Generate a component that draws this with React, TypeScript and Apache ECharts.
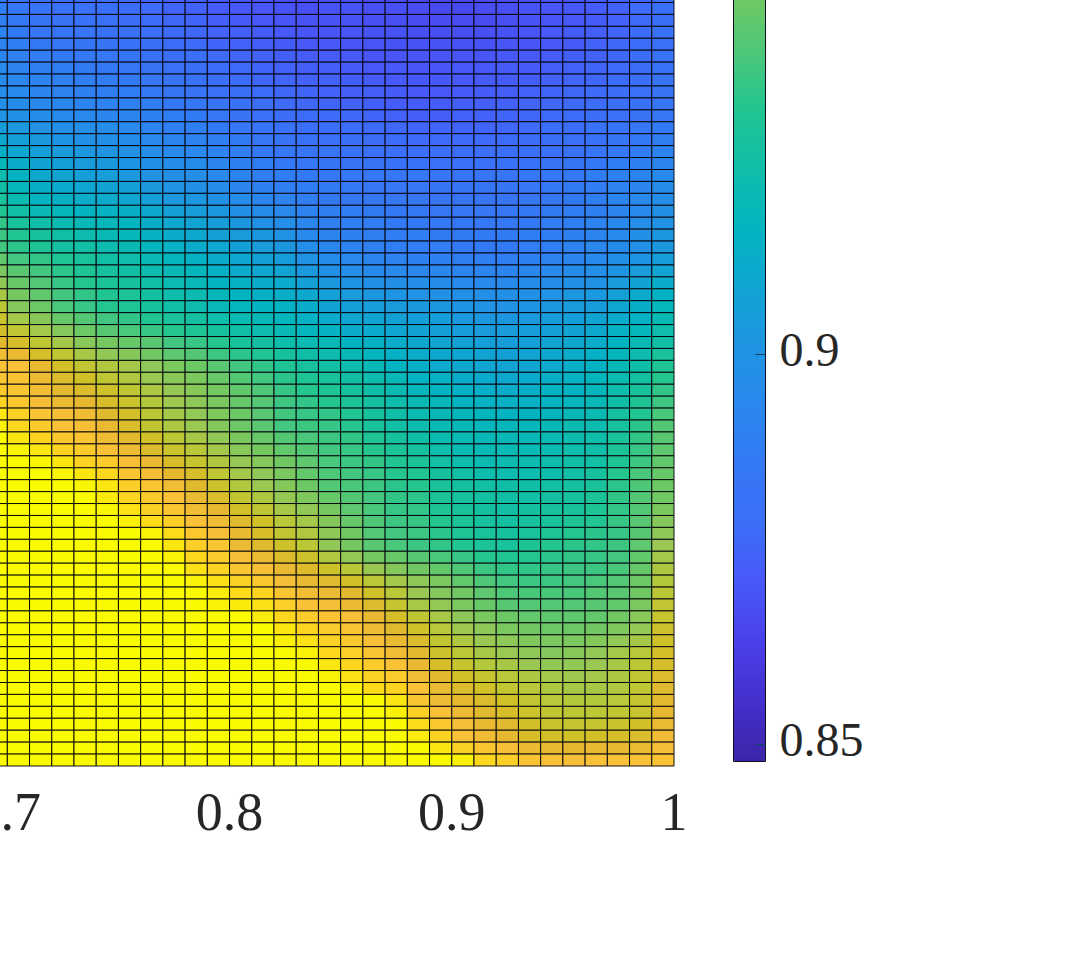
import React, { useEffect, useRef } from "react";
import * as echarts from "echarts";

const xTickValues = [0.7, 0.8, 0.9, 1];
const colorbarTickValues = [0.85, 0.9];
const colorMin = 0.84776;
const colorMax = 1.0;
const xStart = 0.69;
const xStep = 0.01;
const colorStops = ["#3c24a8","#4430cc","#4a40e8","#4858f8","#3c6ef8","#3478f5","#2a88ee","#1f94e2","#10a5d2","#02b5c0","#10bea8","#22c590","#50c778","#74c860","#98c854","#b8c838","#d2c028","#e6b830","#f8c038","#fcd420","#fafa00"];

// Each row: one y level, top row first; values in thousandths.
const cellRows: number[][] = [
[888,884,882,881,880,879,877,876,874,873,871,870,869,868,867,868,868,867,867,866,865,865,866,867,868,869,870,872,874,876,879],
[889,885,883,882,881,880,878,877,875,874,872,871,870,869,868,869,869,868,868,867,866,866,867,868,869,870,871,872,874,877,880],
[890,886,884,883,882,881,879,878,876,875,873,872,871,870,869,869,869,868,868,867,867,867,867,868,869,870,871,872,874,877,880],
[891,887,885,884,883,882,881,879,877,876,874,873,872,871,870,870,870,869,869,868,868,868,868,869,870,871,872,873,875,878,881],
[892,888,886,885,884,883,882,880,878,877,875,874,873,872,871,871,870,870,869,869,869,869,869,870,870,871,872,874,876,878,881],
[892,890,888,887,886,885,884,882,880,879,877,875,874,873,872,872,871,870,870,870,870,870,870,871,871,872,873,874,876,879,882],
[894,891,889,888,887,886,885,883,881,880,878,877,875,874,873,873,872,871,871,870,870,871,871,872,872,873,874,875,877,879,882],
[895,893,891,890,889,888,887,885,883,882,880,878,876,875,874,874,873,872,871,871,871,871,872,872,873,874,875,876,878,880,883],
[897,895,893,891,890,889,888,886,884,883,881,880,878,876,875,874,873,873,872,871,871,872,872,873,874,875,876,877,879,881,883],
[898,896,894,893,892,891,890,888,886,885,883,881,879,877,876,875,874,873,872,872,872,873,873,874,875,876,877,878,880,882,884],
[901,899,897,895,894,893,892,890,888,887,885,883,881,879,878,877,876,875,874,873,873,874,874,875,876,877,878,879,881,883,885],
[905,903,900,898,897,896,894,892,890,889,887,885,883,881,880,879,878,877,876,875,875,875,875,876,877,878,879,881,883,885,887],
[909,906,903,901,899,898,896,894,892,891,889,887,885,883,882,881,880,879,878,877,877,877,877,878,879,880,881,882,884,886,889],
[913,909,906,904,902,901,899,897,895,894,891,889,886,885,884,883,882,881,880,880,879,879,879,880,880,881,882,884,886,888,891],
[918,912,908,906,904,903,901,899,897,896,893,890,888,886,885,884,883,883,882,882,881,881,881,882,882,883,884,886,888,890,893],
[922,915,910,908,906,905,903,900,898,897,894,892,889,888,887,886,885,885,885,885,884,884,884,884,885,885,886,888,890,892,895],
[925,918,913,911,909,908,906,903,900,899,896,893,890,889,888,887,886,885,885,885,884,884,884,884,885,886,887,888,891,893,896],
[928,921,916,914,912,911,909,906,903,902,899,896,893,891,889,887,886,886,885,885,884,884,884,884,885,886,887,889,892,894,897],
[931,925,920,918,916,915,913,910,907,905,902,899,896,894,891,889,888,887,886,886,885,885,885,885,886,887,888,890,893,895,899],
[934,928,924,921,919,918,916,913,910,908,905,902,899,897,893,890,889,888,887,887,886,886,886,886,887,888,889,891,894,897,900],
[936,931,927,924,922,920,918,915,912,910,907,904,902,900,895,892,890,889,888,888,887,887,887,887,888,888,890,892,895,898,902],
[937,933,930,926,925,922,920,917,914,912,909,906,904,902,897,893,891,890,889,888,888,887,887,887,888,889,891,893,896,899,903],
[943,937,934,930,928,925,923,920,917,915,912,909,907,905,900,896,894,892,891,890,890,889,889,889,890,891,893,895,898,901,905],
[948,941,937,933,930,927,925,922,919,917,914,911,909,908,903,899,897,895,894,893,893,892,892,892,893,894,896,898,901,904,908],
[953,944,940,935,932,929,927,924,921,919,916,914,912,911,907,903,901,899,898,897,896,895,895,895,896,897,899,900,904,908,912],
[958,947,943,937,934,931,929,926,923,921,918,916,914,913,910,906,904,902,901,900,899,898,898,898,899,900,902,903,907,911,915],
[963,950,945,938,935,932,930,927,924,922,919,917,916,915,912,908,906,905,904,903,902,901,900,900,901,902,904,905,909,913,918],
[967,957,951,944,940,937,934,931,928,926,923,921,919,917,914,911,909,908,907,906,905,903,902,902,903,904,906,908,911,915,920],
[971,964,957,950,945,941,938,935,932,930,927,924,922,920,917,915,912,911,909,908,906,905,904,904,905,906,908,910,914,918,923],
[976,971,964,957,951,947,944,941,937,935,932,928,926,923,921,919,916,914,912,910,908,907,906,905,906,908,910,912,916,920,925],
[981,979,971,964,958,953,950,946,942,940,936,933,930,927,924,922,919,917,914,912,910,909,908,907,908,910,912,914,918,922,928],
[985,985,978,970,965,960,957,952,948,945,941,937,934,930,927,925,922,919,916,913,911,910,909,908,909,911,913,915,919,924,930],
[987,986,980,973,969,964,960,955,951,948,944,940,937,933,930,928,925,922,919,916,914,912,911,910,911,913,915,917,921,926,932],
[989,987,982,976,973,968,964,959,954,951,947,943,939,935,932,930,927,924,921,918,916,914,913,912,913,915,916,918,923,928,934],
[992,988,983,979,977,972,967,961,956,952,948,944,940,936,934,932,929,926,923,920,918,916,915,914,914,916,917,919,924,930,936],
[996,991,986,983,981,975,970,963,957,953,949,945,941,937,935,934,931,927,924,921,919,918,917,916,916,917,919,921,926,931,938],
[998,993,989,985,984,978,973,965,959,955,950,945,941,937,936,935,932,928,925,922,920,919,918,918,918,919,921,922,927,933,940],
[1000,996,992,988,986,981,976,969,963,958,953,948,944,940,938,936,934,930,927,924,921,920,919,919,919,920,922,923,928,934,941],
[1000,999,996,992,989,985,980,973,967,962,957,951,947,943,940,937,935,932,929,927,923,921,920,920,920,921,923,924,929,935,942],
[1000,1000,999,996,992,989,984,978,972,966,960,954,950,946,942,938,936,934,931,929,925,923,921,921,921,922,924,925,930,936,943],
[1000,1000,1000,999,996,993,987,983,977,971,964,957,952,948,943,939,937,935,932,931,927,925,923,922,922,923,925,927,932,938,944],
[1000,1000,1000,1000,999,996,990,987,982,975,968,960,955,950,945,940,938,936,933,932,928,926,925,924,924,925,926,928,933,939,945],
[1000,1000,1000,1000,1000,997,992,989,985,979,973,965,959,954,949,944,940,937,934,933,929,927,926,925,925,926,927,929,934,940,946],
[1000,1000,1000,1000,1000,999,995,991,987,982,977,970,964,958,953,947,942,938,935,934,930,928,926,925,926,927,928,930,934,940,948],
[1000,1000,1000,1000,1000,1000,998,994,990,985,981,975,969,962,957,950,944,939,936,935,932,929,927,926,927,928,930,931,935,941,950],
[1000,1000,1000,1000,1000,1000,1000,998,994,988,984,978,972,965,960,952,946,940,937,936,933,930,928,927,928,930,932,933,935,941,952],
[1000,1000,1000,1000,1000,1000,1000,1000,996,990,987,980,975,968,963,953,947,941,938,936,934,931,929,928,930,932,933,934,936,942,955],
[1000,1000,1000,1000,1000,1000,1000,1000,998,993,989,984,979,973,968,960,953,947,944,941,938,935,932,931,932,933,934,935,937,943,957],
[1000,1000,1000,1000,1000,1000,1000,1000,1000,995,992,987,984,979,974,968,962,955,950,946,943,939,936,934,934,935,936,936,938,944,959],
[1000,1000,1000,1000,1000,1000,1000,1000,1000,998,995,991,988,983,978,975,970,963,957,952,948,943,939,937,936,936,937,938,940,945,961],
[1000,1000,1000,1000,1000,1000,1000,1000,1000,1000,997,994,992,987,982,980,976,969,962,955,950,946,942,939,938,938,938,940,941,946,963],
[1000,1000,1000,1000,1000,1000,1000,1000,1000,1000,998,997,995,990,985,983,980,973,966,958,953,948,944,941,940,940,940,941,943,948,965],
[1000,1000,1000,1000,1000,1000,1000,1000,1000,1000,1000,1000,997,993,989,986,984,978,971,964,958,952,948,945,943,942,942,943,946,951,966],
[1000,1000,1000,1000,1000,1000,1000,1000,1000,1000,1000,1000,1000,996,992,989,986,981,975,969,962,956,952,948,946,945,945,946,949,954,968],
[1000,1000,1000,1000,1000,1000,1000,1000,1000,1000,1000,1000,1000,998,995,991,988,984,979,973,965,960,955,952,949,948,948,950,953,958,969],
[1000,1000,1000,1000,1000,1000,1000,1000,1000,1000,1000,1000,1000,1000,998,993,990,986,982,976,968,963,958,955,952,950,951,953,957,962,971],
[1000,1000,1000,1000,1000,1000,1000,1000,1000,1000,1000,1000,1000,1000,1000,996,993,989,985,979,972,966,961,958,955,953,953,955,958,963,972],
[1000,1000,1000,1000,1000,1000,1000,1000,1000,1000,1000,1000,1000,1000,1000,998,995,991,989,982,976,970,966,962,959,957,956,957,959,964,973],
[1000,1000,1000,1000,1000,1000,1000,1000,1000,1000,1000,1000,1000,1000,1000,1000,998,994,992,985,979,973,969,965,962,959,958,958,960,964,975],
[1000,1000,1000,1000,1000,1000,1000,1000,1000,1000,1000,1000,1000,1000,1000,1000,1000,1000,996,987,981,977,973,969,965,962,961,961,962,966,976],
[1000,1000,1000,1000,1000,1000,1000,1000,1000,1000,1000,1000,1000,1000,1000,1000,1000,1000,998,991,985,980,975,972,968,965,963,963,964,967,977],
[1000,1000,1000,1000,1000,1000,1000,1000,1000,1000,1000,1000,1000,1000,1000,1000,1000,1000,1000,994,988,983,978,975,970,967,966,966,967,970,979],
[1000,1000,1000,1000,1000,1000,1000,1000,1000,1000,1000,1000,1000,1000,1000,1000,1000,1000,1000,997,992,985,981,977,972,970,969,970,971,973,981],
[1000,1000,1000,1000,1000,1000,1000,1000,1000,1000,1000,1000,1000,1000,1000,1000,1000,1000,1000,1000,996,991,987,984,980,978,977,978,978,979,984],
[1000,1000,1000,1000,1000,1000,1000,1000,1000,1000,1000,1000,1000,1000,1000,1000,1000,1000,1000,1000,1000,998,993,990,986,985,984,985,985,985,986],
];

const FONT = "'Liberation Serif', serif";
const INK = "#262626";

export default function App() {
  const ref = useRef<HTMLDivElement>(null);
  useEffect(() => {
    document.body.style.margin = "0";
    document.body.style.overflow = "hidden";
    const chart = echarts.init(ref.current!, undefined, { renderer: "svg" });
    const rowCount = cellRows.length;
    const data: number[][] = [];
    cellRows.forEach((row, r) => {
      row.forEach((v, c) => {
        data.push([xStart + xStep * c, rowCount - 1 - r, v / 1000]);
      });
    });
    chart.setOption({
      animation: false,
      backgroundColor: "#ffffff",
      grid: [
        { left: -14.9, width: 688.9, top: -9.45, height: 775.45, outerBoundsMode: "none" },
        {
          left: 733.5, width: 32, top: -426, height: 1187.5, show: true, z: 10, outerBoundsMode: "none",
          backgroundColor: "transparent", borderColor: "#101020", borderWidth: 1,
        },
      ],
      xAxis: [
        {
          type: "value", gridIndex: 0, min: xStart, max: 1, splitLine: { show: false },
          axisLine: { show: false }, axisTick: { show: false },
          axisLabel: {
            customValues: xTickValues, margin: 19, fontFamily: FONT, fontSize: 54, color: INK,
            hideOverlap: false, formatter: (v: number) => String(v),
          },
        },
        { type: "value", gridIndex: 1, min: 0, max: 1, show: false },
      ],
      yAxis: [
        { type: "value", gridIndex: 0, min: 0, max: rowCount, show: false },
        {
          type: "value", gridIndex: 1, min: colorMin, max: colorMax, position: "right", z: 10,
          splitLine: { show: false }, axisLine: { show: false, onZero: false },
          axisTick: { show: true, inside: true, length: 10, customValues: colorbarTickValues, lineStyle: { color: "#104060", width: 1 } },
          axisLabel: {
            customValues: colorbarTickValues, margin: 14, fontFamily: FONT, fontSize: 48, color: INK,
            verticalAlign: "bottom", lineHeight: 10, formatter: (v: number) => String(v),
          },
        },
      ],
      visualMap: {
        type: "continuous", seriesIndex: 0, dimension: 2, min: colorMin, max: colorMax,
        calculable: false, realtime: false, left: 733.5, top: -426, itemWidth: 32, itemHeight: 1187.5,
        padding: 0, text: null, showLabel: false, inRange: { color: colorStops },
      },
      series: [
        {
          type: "custom", xAxisIndex: 0, yAxisIndex: 0, data,
          encode: { x: 0, y: 1 }, dimensions: ["x", "row", "value"],
          renderItem: (_p: any, api: any) => {
            const x = api.value(0), y = api.value(1);
            const a = api.coord([x, y + 1]);
            const b = api.coord([x + xStep, y]);
            return {
              type: "rect",
              shape: { x: a[0], y: a[1], width: b[0] - a[0], height: b[1] - a[1] },
              style: { fill: api.visual("color"), stroke: "rgba(0,0,10,0.92)", lineWidth: 1 },
            };
          },
        },
      ],
    });
    return () => chart.dispose();
  }, []);
  return <div ref={ref} style={{ width: 1080, height: 963 }} />;
}
